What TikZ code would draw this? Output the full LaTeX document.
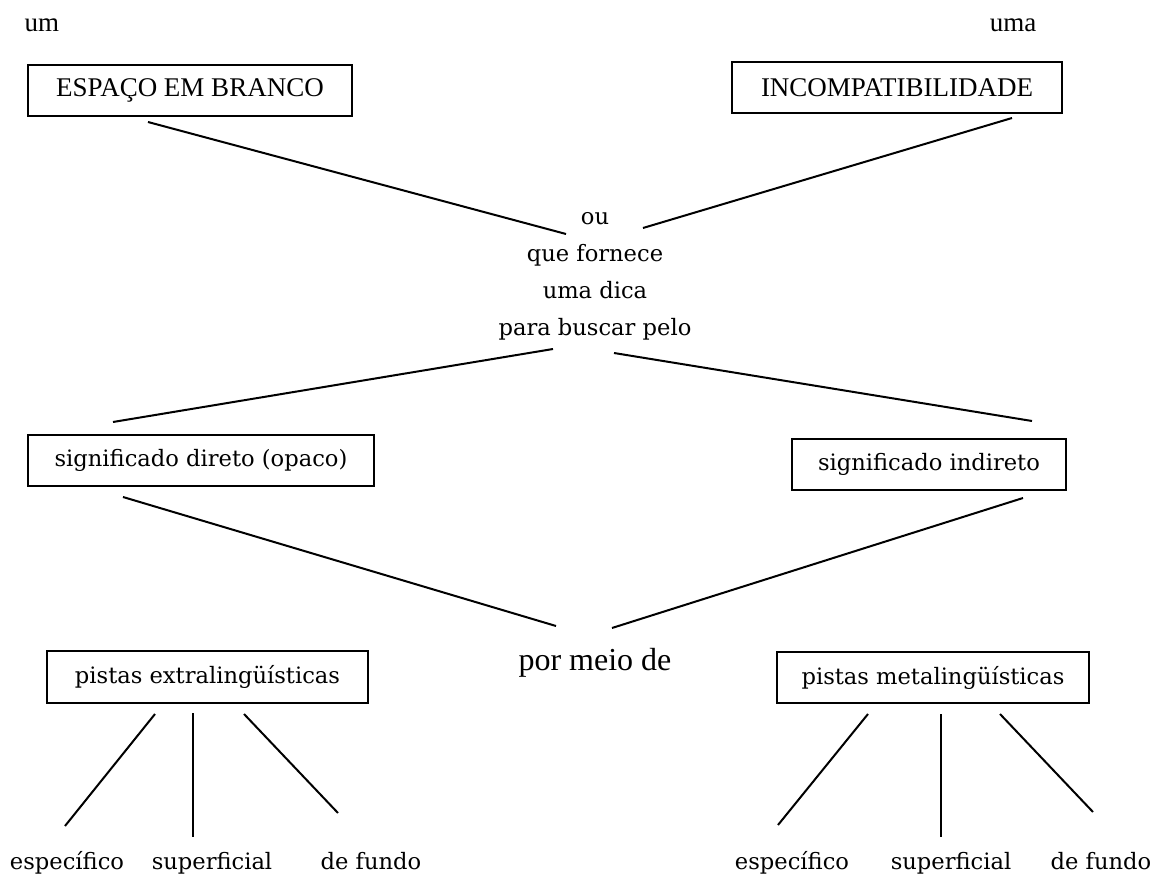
\documentclass[tikz,border=0pt]{standalone}
\usepackage{fontspec}
\setmainfont{Liberation Serif}
\newfontfamily\geo{DejaVu Serif}
\tikzset{
  caixa/.style={draw, line width=2.4pt, minimum height=51pt, inner sep=0pt},
  tms/.style={font=\fontsize{27}{30}\selectfont},
  geor/.style={font=\geo\fontsize{22.6}{37}\selectfont},
  traco/.style={line width=2pt}
}
\begin{document}
\begin{tikzpicture}[x=1pt,y=-1pt]
    \useasboundingbox (0,0) rectangle (1163,877);
    % topo
    \node[tms, anchor=base] (um) at (42,32) {um};
    \node[tms, anchor=base] (uma) at (1013,32) {uma};
    \node[caixa, tms, minimum width=324pt] (espaco) at (190,90.5) {ESPAÇO EM BRANCO};
    \node[caixa, tms, minimum width=330pt] (incomp) at (897,87.5) {INCOMPATIBILIDADE};
    % meio
    \node[geor, align=center] (dica) at (595,276) {ou\\que fornece\\uma dica\\para buscar pelo};
    \node[caixa, geor, minimum width=346pt] (direto) at (201,460.5) {significado direto (opaco)};
    \node[caixa, geor, minimum width=274pt] (indireto) at (929,464.5) {significado indireto};
    \node[font=\fontsize{32}{36}\selectfont, anchor=base] (meio) at (595,670) {por meio de};
    % pistas
    \node[caixa, geor, minimum width=321pt, minimum height=52pt] (extra) at (207.5,677) {pistas extralingüísticas};
    \node[caixa, geor, minimum width=312pt] (meta) at (933,677.5) {pistas metalingüísticas};
    \node[geor, anchor=base] (e1) at (67,869) {específico};
    \node[geor, anchor=base] (e2) at (212,869) {superficial};
    \node[geor, anchor=base] (e3) at (371,869) {de fundo};
    \node[geor, anchor=base] (m1) at (792,869) {específico};
    \node[geor, anchor=base] (m2) at (951,869) {superficial};
    \node[geor, anchor=base] (m3) at (1101,869) {de fundo};
    % pontas das linhas
    \coordinate (espaco-s) at (148,122);
    \coordinate (incomp-s) at (1012,118);
    \coordinate (dica-nw) at (566,234);
    \coordinate (dica-ne) at (643,228);
    \coordinate (dica-sw) at (553,349);
    \coordinate (dica-se) at (614,353);
    \coordinate (direto-n) at (113,422);
    \coordinate (indireto-n) at (1032,421);
    \coordinate (direto-s) at (123,497);
    \coordinate (indireto-s) at (1023,498);
    \coordinate (meio-nw) at (556,626);
    \coordinate (meio-ne) at (612,628);
    \coordinate (extra-1) at (155,714);
    \coordinate (extra-2) at (193,713);
    \coordinate (extra-3) at (244,714);
    \coordinate (e1-n) at (65,826);
    \coordinate (e2-n) at (193,837);
    \coordinate (e3-n) at (338,813);
    \coordinate (meta-1) at (868,714);
    \coordinate (meta-2) at (941,714);
    \coordinate (meta-3) at (1000,714);
    \coordinate (m1-n) at (778,825);
    \coordinate (m2-n) at (941,837);
    \coordinate (m3-n) at (1093,812);
    \draw[traco] (espaco-s) -- (dica-nw);
    \draw[traco] (incomp-s) -- (dica-ne);
    \draw[traco] (dica-sw) -- (direto-n);
    \draw[traco] (dica-se) -- (indireto-n);
    \draw[traco] (direto-s) -- (meio-nw);
    \draw[traco] (indireto-s) -- (meio-ne);
    \draw[traco] (extra-1) -- (e1-n);
    \draw[traco] (extra-2) -- (e2-n);
    \draw[traco] (extra-3) -- (e3-n);
    \draw[traco] (meta-1) -- (m1-n);
    \draw[traco] (meta-2) -- (m2-n);
    \draw[traco] (meta-3) -- (m3-n);
\end{tikzpicture}
\end{document}
